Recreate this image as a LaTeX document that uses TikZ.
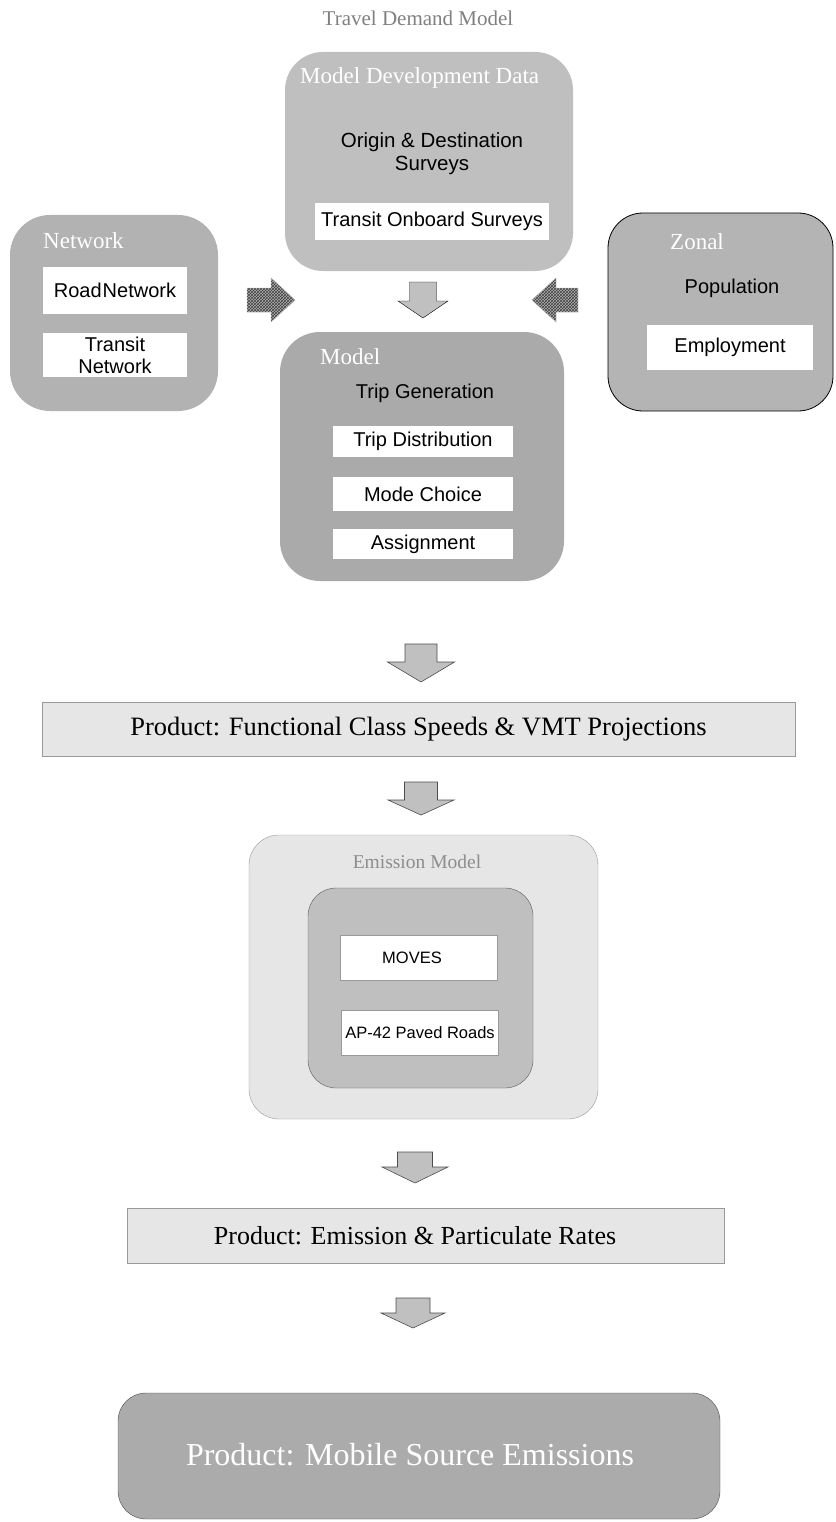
\documentclass[tikz,border=0pt]{standalone}
\usepackage{fontspec}
\setmainfont{Liberation Serif}
\setsansfont{Liberation Sans}
\usetikzlibrary{patterns}
\definecolor{mddgrey}{RGB}{191,191,191}
\definecolor{netgrey}{RGB}{178,178,178}
\definecolor{zonegrey}{RGB}{180,180,180}
\definecolor{modelgrey}{RGB}{170,170,170}
\definecolor{paleg}{RGB}{230,230,230}
\definecolor{innergrey}{RGB}{191,191,191}
\definecolor{finalgrey}{RGB}{171,171,171}
\definecolor{titlegrey}{RGB}{128,128,128}
\definecolor{arrowgrey}{RGB}{192,192,192}
% block arrows: style, x, top, shaft half, head half, shaft length, head length
\newcommand{\downblock}[7]{\draw[#1] ({#2-#4},{#3}) -- ({#2+#4},{#3}) -- ({#2+#4},{#3+#6})
  -- ({#2+#5},{#3+#6}) -- ({#2},{#3+#6+#7}) -- ({#2-#5},{#3+#6}) -- ({#2-#4},{#3+#6}) -- cycle;}
% style, tail x, y, shaft half, head half, shaft length, head length (signed)
\newcommand{\sideblock}[7]{\draw[#1] ({#2},{#3-#4}) -- ({#2+(#6)},{#3-#4}) -- ({#2+(#6)},{#3-#5})
  -- ({#2+(#6)+(#7)},{#3}) -- ({#2+(#6)},{#3+#5}) -- ({#2+(#6)},{#3+#4}) -- ({#2},{#3+#4}) -- cycle;}
\begin{document}
\begin{tikzpicture}[x=1pt, y=-1pt,
  panel/.style={rounded corners=#1, inner sep=0pt, outer sep=0pt},
  panel/.default=35pt,
  head/.style={text=white, font=\fontsize{23}{26}\selectfont},
  item/.style={font=\sffamily\fontsize{20}{22}\selectfont, align=center},
  card/.style={fill=white, inner sep=0pt, item},
  product/.style={fill=paleg, draw=gray!80, inner sep=0pt},
  flow/.style={fill=arrowgrey, draw=gray!60!black, line width=0.6pt},
  hatch/.style={preaction={fill=gray!60}, pattern=crosshatch, pattern color=black!75, draw=gray!60}]
\useasboundingbox (0,0) rectangle (835,1522);

\node[text=titlegrey, font=\fontsize{21}{24}\selectfont] (title) at (418,18) {Travel Demand Model};

% model development data
\node[panel=38pt, fill=mddgrey, minimum width=288pt, minimum height=219pt] (mdd) at (429,161.5) {};
\node[head, anchor=west, inner sep=0pt] (mddlab) at (300,78) {Model Development Data};
\node[item, font=\sffamily\fontsize{20.5}{23}\selectfont] (odsurv) at (432,154) {Origin \& Destination\\Surveys};
\node[card, minimum width=234pt, minimum height=37pt] (onboard) at (432,221.5) {Transit Onboard Surveys};

% network
\node[panel=40pt, fill=netgrey, minimum width=208pt, minimum height=196pt] (net) at (114,313) {};
\node[head, anchor=west, inner sep=0pt] (netlab) at (43,241) {Network};
\node[card, minimum width=144pt, minimum height=47pt] (road) at (115,290.5) {Road\kern1pt Network};
\node[card, minimum width=144pt, minimum height=44pt] (transnet) at (115,355) {Transit\\Network};

% zonal
\node[panel=35pt, fill=zonegrey, draw=black, line width=0.8pt, minimum width=225pt, minimum height=198pt] (zonal) at (720.5,312) {};
\node[head, anchor=west, inner sep=0pt] (zonallab) at (670,242) {Zonal};
\node[item] (popul) at (732,288) {Population};
\node[card, minimum width=166pt, minimum height=45pt] (employ) at (730,347.5) {Employment};

% model
\node[panel=40pt, fill=modelgrey, minimum width=284pt, minimum height=249pt] (model) at (422,456.5) {};
\node[head, anchor=west, inner sep=0pt] (modellab) at (320,357) {Model};
\node[item] (tripgen) at (425,393) {Trip Generation};
\node[card, minimum width=180pt, minimum height=31pt] (tripdist) at (423,441.5) {Trip Distribution};
\node[card, minimum width=180pt, minimum height=34pt] (modech) at (423,494) {Mode Choice};
\node[card, minimum width=180pt, minimum height=30pt] (assign) at (423,544) {Assignment};

% arrows into the model
\sideblock{hatch}{247}{300}{12}{22}{24}{24}
\sideblock{hatch}{578}{300}{12}{22}{-22}{-24}
\downblock{fill=arrowgrey}{423}{282}{13.5}{25}{19}{17}

% products
\downblock{flow}{421}{644}{16}{33.5}{18}{20}
\node[product, minimum width=753pt, minimum height=54pt, font=\fontsize{26.5}{30}\selectfont] (prod1) at (418.5,729) {Product: Functional Class Speeds \& VMT Projections};
\downblock{flow}{421}{782}{16.5}{33}{18}{15}

% emission model
\node[panel=30pt, fill=paleg, draw=gray!80, minimum width=349pt, minimum height=284pt] (emis) at (423.5,977) {};
\node[text=titlegrey!90, font=\fontsize{19.5}{22}\selectfont] (emislab) at (417,862) {Emission Model};
\node[panel=28pt, fill=innergrey, draw=gray!70!black, minimum width=225pt, minimum height=200pt] (engine) at (420.5,988) {};
\node[card, draw=gray!80, minimum width=157pt, minimum height=45pt] (moves) at (418.5,957.5) {};
\node[item, font=\sffamily\fontsize{16.5}{20}\selectfont] (moveslab) at (412,957.5) {MOVES};
\node[card, draw=gray!80, font=\sffamily\fontsize{16.5}{20}\selectfont, minimum width=157pt, minimum height=45pt] (ap42) at (420,1032.5) {AP-42 Paved Roads};

\downblock{flow}{415}{1152}{17.5}{33}{15}{16}
\node[product, minimum width=597pt, minimum height=55pt] (prod2) at (425.5,1235.5) {};
\node[font=\fontsize{26}{30}\selectfont] (prod2lab) at (415,1235.5) {Product: Emission \& Particulate Rates};
\downblock{flow}{413}{1298}{17}{32}{15}{15}

\node[panel=28pt, fill=finalgrey, draw=gray!60!black, minimum width=602pt, minimum height=126pt] (final) at (419,1456) {};
\node[text=white, font=\fontsize{32}{36}\selectfont] (finallab) at (410,1455) {Product: Mobile Source Emissions};
\end{tikzpicture}
\end{document}
